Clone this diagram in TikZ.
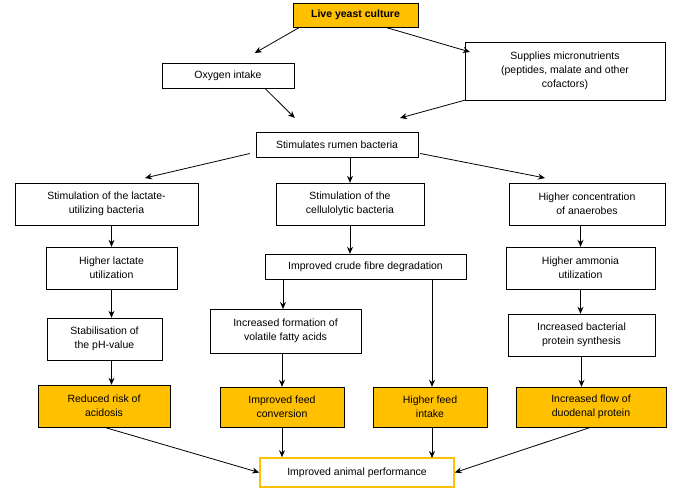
\documentclass[tikz,border=0pt]{standalone}
\usepackage{fontspec}
\setmainfont{Liberation Sans}
\usetikzlibrary{arrows.meta}
\definecolor{org}{HTML}{FFC000}
\begin{document}
\begin{tikzpicture}[x=1pt,y=-1pt,
 bx/.style={draw=black,fill=white,inner sep=0pt,align=center,font=\fontsize{10.5}{14}\selectfont},
 ob/.style={bx,fill=org},
 ar/.style={-{Stealth[length=7pt,width=6pt]},thick}]
\useasboundingbox (0,0) rectangle (673,495);
\newcommand{\bx}[6]{\node[#1,minimum width=#4-#2,minimum height=#5-#3] (#6) at ({(#2+#4)/2},{(#3+#5)/2})}
\bx{ob}{293}{3}{418}{27}{live}{\textbf{Live yeast culture}};
\bx{bx}{162}{63}{294}{88}{oxy}{Oxygen intake};
\bx{bx}{465}{42}{665}{100}{sup}{Supplies micronutrients\\(peptides, malate and other\\cofactors)};
\bx{bx}{256}{132}{418}{157}{stim}{Stimulates rumen bacteria};
\bx{bx}{15}{183}{198}{225}{lac}{Stimulation of the lactate-\\utilizing bacteria};
\bx{bx}{276}{183}{424}{225}{cel}{Stimulation of the\\cellulolytic bacteria};
\bx{bx}{509}{183}{665}{225}{ana}{Higher concentration\\of anaerobes};
\bx{bx}{46}{247}{177}{289}{hlu}{Higher lactate\\utilization};
\bx{bx}{265}{254}{466}{279}{cfd}{Improved crude fibre degradation};
\bx{bx}{506}{247}{655}{289}{amm}{Higher ammonia\\utilization};
\bx{bx}{47}{318}{162}{360}{ph}{Stabilisation of\\the pH-value};
\bx{bx}{210}{309}{361}{353}{vfa}{Increased formation of\\volatile fatty acids};
\bx{bx}{508}{314}{655}{356}{bps}{Increased bacterial\\protein synthesis};
\bx{ob}{38}{385}{170}{427}{acid}{Reduced risk of\\acidosis};
\bx{ob}{220}{387}{344}{427}{fc}{Improved feed\\conversion};
\bx{ob}{373}{387}{487}{427}{fi}{Higher feed\\intake};
\bx{ob}{516}{387}{666}{427}{duo}{Increased flow of\\duodenal protein};
\node[bx,draw=org,line width=1.6pt,minimum width=194,minimum height=29] (perf) at (357,472.5) {Improved animal performance};
\draw[ar] ([xshift=7]live.south west) -- ([xshift=93]oxy.north west|-0,53);
\draw[ar] ([xshift=-33]live.south east) -- (470,52);
\draw[ar] ([xshift=103]oxy.south west) -- ([xshift=39]stim.north west|-0,118);
\draw[ar] (sup.south west) -- (400,118);
\draw[ar] ([xshift=-6,yshift=-9]stim.west) -- (145,178);
\draw[ar] (stim.south-|cel.north) -- (cel.north);
\draw[ar] ([xshift=2,yshift=-9]stim.east) -- (545,178);
\draw[ar] (lac.south-|hlu.north) -- (hlu.north);
\draw[ar] (cel.south) -- (cel.south|-cfd.north);
\draw[ar] (ana.south-|amm.north) -- (amm.north);
\draw[ar] (hlu.south) -- (hlu.south|-ph.north);
\draw[ar] (cfd.south-|283,0) -- (283,309);
\draw[ar] (cfd.south-|432,0) -- (fi.north-|432,0);
\draw[ar] (amm.south) -- (amm.south|-bps.north);
\draw[ar] (ph.south-|hlu.south) -- (hlu.south|-acid.north);
\draw[ar] (vfa.south-|fc.south) -- (fc.north);
\draw[ar] (bps.south) -- (bps.south|-duo.north);
\draw[ar] (acid.south) -- (perf.west);
\draw[ar] (fc.south) -- (fc.south|-perf.north);
\draw[ar] (fi.south-|432,0) -- (432,458);
\draw[ar] (duo.south) -- (perf.east);
\end{tikzpicture}
\end{document}
